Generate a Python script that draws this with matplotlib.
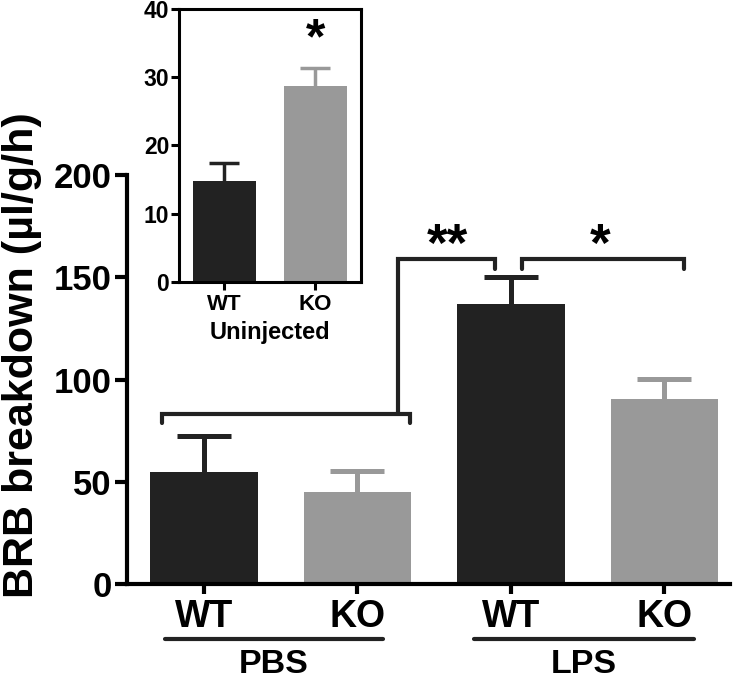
import numpy as np
import matplotlib.pyplot as plt
import matplotlib.transforms as mtransforms

plt.rcParams['font.family'] = ['Liberation Sans', 'DejaVu Sans']
plt.rcParams['font.weight'] = 'bold'

# datos del panel principal
genotipos = ['WT', 'KO', 'WT', 'KO']
tratamientos = ['PBS', 'LPS']
brb_media = [54.9, 45.1, 136.8, 90.3]
brb_sem = [17.5, 10.2, 13.5, 9.9]

# datos del recuadro (no inyectados)
genotipos_inset = ['WT', 'KO']
uninj_media = [14.8, 28.7]
uninj_sem = [2.6, 2.6]

negro = '#222222'
gris = '#999999'
colores = [negro, gris, negro, gris]


def barras_error(eje, pos, medias, errores, cols, lw, cap):
    # solo la mitad superior de la barra de error, sin tapa inferior
    for p, m, e, c in zip(pos, medias, errores, cols):
        eb = eje.errorbar(p, m, yerr=[[0], [e]], fmt='none', ecolor=c, elinewidth=lw,
                          capsize=cap, capthick=lw, zorder=1)
        for cl in eb[1]:
            if np.isclose(cl.get_ydata()[0], m):
                cl.set_visible(False)


fig = plt.figure(figsize=(7.43, 6.79), dpi=100)
ax = fig.add_axes([0.171, 0.140, 0.812, 0.602])

x = np.arange(len(brb_media))
ax.bar(x, brb_media, width=0.7, color=colores, zorder=2)
barras_error(ax, x, brb_media, brb_sem, colores, 3.6, 19.5)

ax.set_xlim(-0.5, 3.43)
ax.set_ylim(0, 200)
ax.set_yticks([0, 50, 100, 150, 200])
ax.set_xticks(x)
ax.set_xticklabels(genotipos)
for s in ['top', 'right']:
    ax.spines[s].set_visible(False)
for s in ['left', 'bottom']:
    ax.spines[s].set_linewidth(3)
ax.tick_params(axis='y', length=9, width=3, labelsize=25, pad=2)
ax.tick_params(axis='x', length=7.2, width=3, labelsize=27, pad=4)
ax.set_ylabel('BRB breakdown (µl/g/h)', fontsize=31, fontweight='bold')
ax.yaxis.set_label_coords(-0.141, 0.56)

# corchetes de significancia
lw = 3
ax.plot([-0.274, -0.274, 1.344, 1.344], [78.7, 83.1, 83.1, 78.7], color=negro, lw=lw,
        solid_capstyle='round', solid_joinstyle='miter', clip_on=False)
ax.plot([1.266, 1.266, 1.898, 1.898], [83.1, 158.9, 158.9, 154.0], color=negro, lw=lw,
        solid_capstyle='round', solid_joinstyle='miter', clip_on=False)
ax.plot([2.074, 2.074, 3.125, 3.125], [154.0, 158.9, 158.9, 154.0], color=negro, lw=lw,
        solid_capstyle='round', solid_joinstyle='miter', clip_on=False)
ax.text(1.59, 158, '**', ha='center', va='baseline', fontsize=38, fontweight='bold')
ax.text(2.58, 158, '*', ha='center', va='baseline', fontsize=38, fontweight='bold')

# lineas de grupo bajo el eje x
trans = mtransforms.blended_transform_factory(ax.transData, ax.transAxes)
for (x0, x1), nombre in zip([(-0.254, 1.168), (1.761, 3.19)], tratamientos):
    ax.plot([x0, x1], [-0.1345, -0.1345], color=negro, lw=3, solid_capstyle='round',
            transform=trans, clip_on=False)
    ax.text((x0 + x1) / 2, -0.2176, nombre, transform=trans, ha='center', va='baseline',
            fontsize=24.5, fontweight='bold')

# recuadro
axi = fig.add_axes([0.241, 0.585, 0.2445, 0.4016])
xi_pos = np.arange(len(uninj_media))
axi.bar(xi_pos, uninj_media, width=0.7, color=[negro, gris], zorder=2)
barras_error(axi, xi_pos, uninj_media, uninj_sem, [negro, gris], 2.5, 10.5)
axi.set_xlim(-0.5, 1.5)
axi.set_ylim(0, 40)
axi.set_yticks([0, 10, 20, 30, 40])
axi.set_xticks(xi_pos)
axi.set_xticklabels(genotipos_inset)
for s in axi.spines.values():
    s.set_linewidth(2.2)
axi.tick_params(axis='y', length=6, width=2.2, labelsize=16.5, pad=1)
axi.tick_params(axis='x', length=6, width=2.2, labelsize=16, pad=3)
axi.set_xlabel('Uninjected', fontsize=17, fontweight='bold', labelpad=4)
axi.text(1, 33.5, '*', ha='center', va='baseline', fontsize=36, fontweight='bold')

fig.savefig('out.png', dpi=100)
